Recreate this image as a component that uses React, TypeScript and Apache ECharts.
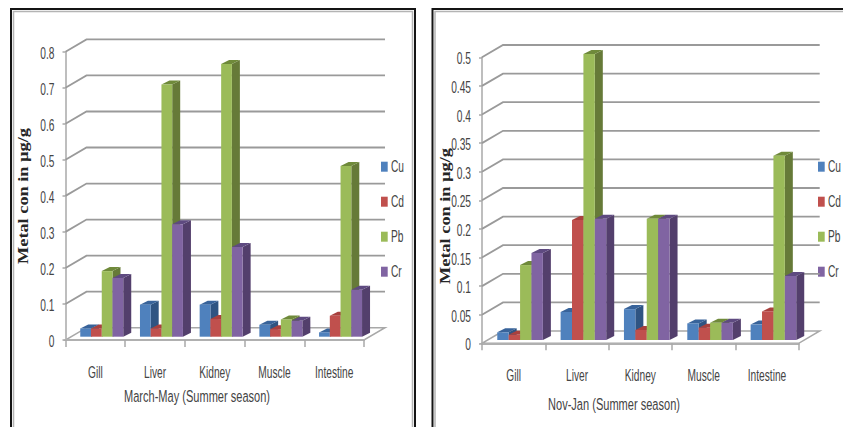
import React, { useEffect, useRef } from "react";
import * as echarts from "echarts";

const categories = ["Gill", "Liver", "Kidney", "Muscle", "Intestine"];
const metals = ["Cu", "Cd", "Pb", "Cr"];

// March-May concentrations (µg/g)
const summerCu = [0.023, 0.089, 0.089, 0.033, 0.012];
const summerCd = [0.023, 0.023, 0.049, 0.021, 0.058];
const summerPb = [0.182, 0.7, 0.757, 0.048, 0.474];
const summerCr = [0.163, 0.312, 0.249, 0.044, 0.13];

// Nov-Jan concentrations (µg/g)
const winterCu = [0.0135, 0.049, 0.054, 0.029, 0.027];
const winterCd = [0.009, 0.21, 0.0175, 0.0215, 0.05];
const winterPb = [0.131, 0.5, 0.212, 0.03, 0.322];
const winterCr = [0.152, 0.212, 0.212, 0.03, 0.112];

const summerTicks = ["0", "0.1", "0.2", "0.3", "0.4", "0.5", "0.6", "0.7", "0.8"];
const winterTicks = ["0", "0.05", "0.1", "0.15", "0.2", "0.25", "0.3", "0.35", "0.4", "0.45", "0.5"];

const fronts = ["#4F81BD", "#C0504D", "#9BBB59", "#8064A2"];
const sides = ["#2F5482", "#8C3A38", "#667A38", "#533F6C"];
const tops = ["#38639A", "#A8403D", "#6F8A3A", "#5E4A80"];

const FONT = '"Liberation Sans", sans-serif';
const TEXT = "#444444";
const GRID = "#9a9a9a";
const SQUEEZE = 0.6;
const CAPTION_SQUEEZE = 0.65;

// Depth of the chart's floor and of each bar, in pixels
const FLOOR_DX = 21;
const FLOOR_DY = 12.3;
const BAR_DX = 8;
const BAR_DY = 4;
const BAR_SHIFT_X = 6.4;
const BAR_SHIFT_Y = 3.3;

// Condensed label: the font is squeezed horizontally around its anchor
function narrowText(text: string, x: number, y: number, size: number, align: string, scaleX = SQUEEZE) {
  return {
    type: "text",
    x,
    y,
    scaleX,
    silent: true,
    style: {
      text,
      x: 0,
      y: 0,
      align,
      verticalAlign: "middle",
      fill: TEXT,
      font: `${size}px ${FONT}`,
    },
  };
}

function wallSeries(ticks: string[], axis: number) {
  return {
    type: "custom",
    xAxisIndex: axis,
    yAxisIndex: axis,
    z: 1,
    silent: true,
    data: ticks.slice(1).map((t) => [0, Number(t)]),
    renderItem(params: any, api: any) {
      const box = params.coordSys;
      const y = api.coord([0, api.value(1)])[1];
      return {
        type: "polyline",
        shape: {
          points: [
            [box.x, y],
            [box.x + FLOOR_DX, y - FLOOR_DY],
            [box.x + box.width + FLOOR_DX, y - FLOOR_DY],
          ],
        },
        style: { stroke: GRID, lineWidth: 1.8, fill: "none" },
      };
    },
  };
}

function floorSeries(axis: number) {
  return {
    type: "custom",
    xAxisIndex: axis,
    yAxisIndex: axis,
    z: 1,
    silent: true,
    data: [[0, 0]],
    renderItem(params: any, api: any) {
      const box = params.coordSys;
      const y = api.coord([0, 0])[1];
      const left = box.x;
      const right = box.x + box.width;
      return {
        type: "polygon",
        shape: {
          points: [
            [left, y],
            [right, y],
            [right + FLOOR_DX, y - FLOOR_DY],
            [left + FLOOR_DX, y - FLOOR_DY],
          ],
        },
        style: { fill: "#ffffff", stroke: "#a8a8a8", lineWidth: 1.5 },
      };
    },
  };
}

function barSeries(name: string, values: number[], index: number, axis: number) {
  return {
    type: "custom",
    name,
    xAxisIndex: axis,
    yAxisIndex: axis,
    z: 2,
    silent: true,
    itemStyle: { color: fronts[index] },
    encode: { x: 0, y: 1 },
    data: values.map((v, i) => [i, v]),
    renderItem(_params: any, api: any) {
      const band = api.size([1, 0])[0];
      const w = band * 0.18;
      const cx = api.coord([api.value(0), 0])[0] + BAR_SHIFT_X;
      const x = cx - 2 * w + index * w;
      const base = api.coord([0, 0])[1] - BAR_SHIFT_Y;
      const y = api.coord([0, api.value(1)])[1] - BAR_SHIFT_Y;
      return {
        type: "group",
        children: [
          {
            type: "polygon",
            shape: {
              points: [
                [x + w, y],
                [x + w + BAR_DX, y - BAR_DY],
                [x + w + BAR_DX, base - BAR_DY],
                [x + w, base],
              ],
            },
            style: { fill: sides[index] },
          },
          {
            type: "polygon",
            shape: {
              points: [
                [x, y],
                [x + w, y],
                [x + w + BAR_DX, y - BAR_DY],
                [x + BAR_DX, y - BAR_DY],
              ],
            },
            style: { fill: tops[index] },
          },
          {
            type: "rect",
            shape: { x, y, width: w, height: base - y },
            style: { fill: fronts[index] },
          },
        ],
      };
    },
  };
}

// Value-axis labels placed from the axis scale
function valueLabelSeries(ticks: string[], axis: number) {
  return {
    type: "custom",
    xAxisIndex: axis,
    yAxisIndex: axis,
    z: 5,
    silent: true,
    data: ticks.map((t) => [0, Number(t)]),
    renderItem(params: any, api: any) {
      const y = api.coord([0, api.value(1)])[1];
      return narrowText(ticks[params.dataIndex], params.coordSys.x - 11, y + 1, 17, "right");
    },
  };
}

// Category labels placed from the axis scale
function categoryLabelSeries(axis: number) {
  return {
    type: "custom",
    xAxisIndex: axis,
    yAxisIndex: axis,
    z: 5,
    silent: true,
    data: categories.map((_c, i) => [i, 0]),
    renderItem(params: any, api: any) {
      const p = api.coord([api.value(0), 0]);
      return narrowText(categories[params.dataIndex], p[0], p[1] + 32, 17, "center");
    },
  };
}

function axesFor(gridIndex: number, max: number, interval: number) {
  return {
    x: {
      type: "category",
      gridIndex,
      data: categories,
      axisLine: { show: true, lineStyle: { color: "#b0b0b0", width: 2 } },
      axisTick: { show: true, length: 7, lineStyle: { color: "#a8a8a8", width: 1.5 } },
      axisLabel: { show: false },
      splitLine: { show: false },
      z: 3,
    },
    y: {
      type: "value",
      gridIndex,
      min: 0,
      max,
      interval,
      axisLine: { show: true, lineStyle: { color: "#a8a8a8", width: 1.5 } },
      axisTick: { show: true, length: 3, lineStyle: { color: "#a8a8a8", width: 1.5 } },
      axisLabel: { show: false },
      splitLine: { show: false },
    },
  };
}

function legendAt(left: number) {
  return metals.flatMap((m, i) => {
    const y = 166.7 + i * 35;
    return [
      {
        type: "rect",
        silent: true,
        shape: { x: left, y: y - 5, width: 6.7, height: 10 },
        style: { fill: fronts[i] },
      },
      narrowText(m, left + 10, y - 0.5, 17, "left"),
    ];
  });
}

function frame(x: number, width: number) {
  return [
    {
      type: "rect",
      silent: true,
      shape: { x: x + 2.5, y: 11.5, width: width - 5, height: 460 },
      style: { fill: "none", stroke: "#b4b4b4", lineWidth: 1.5 },
    },
    {
      type: "rect",
      silent: true,
      shape: { x, y: 9, width, height: 460 },
      style: { fill: "none", stroke: "#141414", lineWidth: 2 },
    },
  ];
}

function axisTitle(x: number, y: number) {
  return {
    type: "text",
    x,
    y,
    rotation: Math.PI / 2,
    scaleX: 1.22,
    silent: true,
    z: 10,
    style: {
      text: "Metal con in µg/g",
      x: 0,
      y: 0,
      align: "center",
      verticalAlign: "middle",
      fill: "#262626",
      font: 'bold 15px "Liberation Serif", serif',
    },
  };
}

export default function App() {
  const ref = useRef<HTMLDivElement>(null);

  useEffect(() => {
    const chart = echarts.init(ref.current as HTMLDivElement, undefined, { renderer: "svg" });
    const first = axesFor(0, 0.8, 0.1);
    const second = axesFor(1, 0.5, 0.05);
    const summer = [summerCu, summerCd, summerPb, summerCr];
    const winter = [winterCu, winterCd, winterPb, winterCr];

    chart.setOption({
      animation: false,
      backgroundColor: "#ffffff",
      grid: [
        { left: 65.5, top: 51.7, width: 298.5, height: 288.3 },
        { left: 482, top: 57.3, width: 316.7, height: 286 },
      ],
      xAxis: [first.x, second.x],
      yAxis: [first.y, second.y],
      series: [
        floorSeries(0),
        wallSeries(summerTicks, 0),
        ...metals.map((m, i) => barSeries(m, summer[i], i, 0)),
        valueLabelSeries(summerTicks, 0),
        categoryLabelSeries(0),
        floorSeries(1),
        wallSeries(winterTicks, 1),
        ...metals.map((m, i) => barSeries(m, winter[i], i, 1)),
        valueLabelSeries(winterTicks, 1),
        categoryLabelSeries(1),
      ],
      graphic: [
        ...frame(11, 404),
        ...frame(432.5, 500),
        ...legendAt(381),
        ...legendAt(818),
        narrowText("March-May (Summer season)", 197, 396, 17, "center", CAPTION_SQUEEZE),
        narrowText("Nov-Jan (Summer season)", 614, 404, 17, "center", CAPTION_SQUEEZE),
        axisTitle(23, 196),
        axisTitle(445, 216),
      ],
    });
    return () => chart.dispose();
  }, []);

  return <div ref={ref} style={{ position: "fixed", left: 0, top: 0, width: 843, height: 427 }} />;
}
